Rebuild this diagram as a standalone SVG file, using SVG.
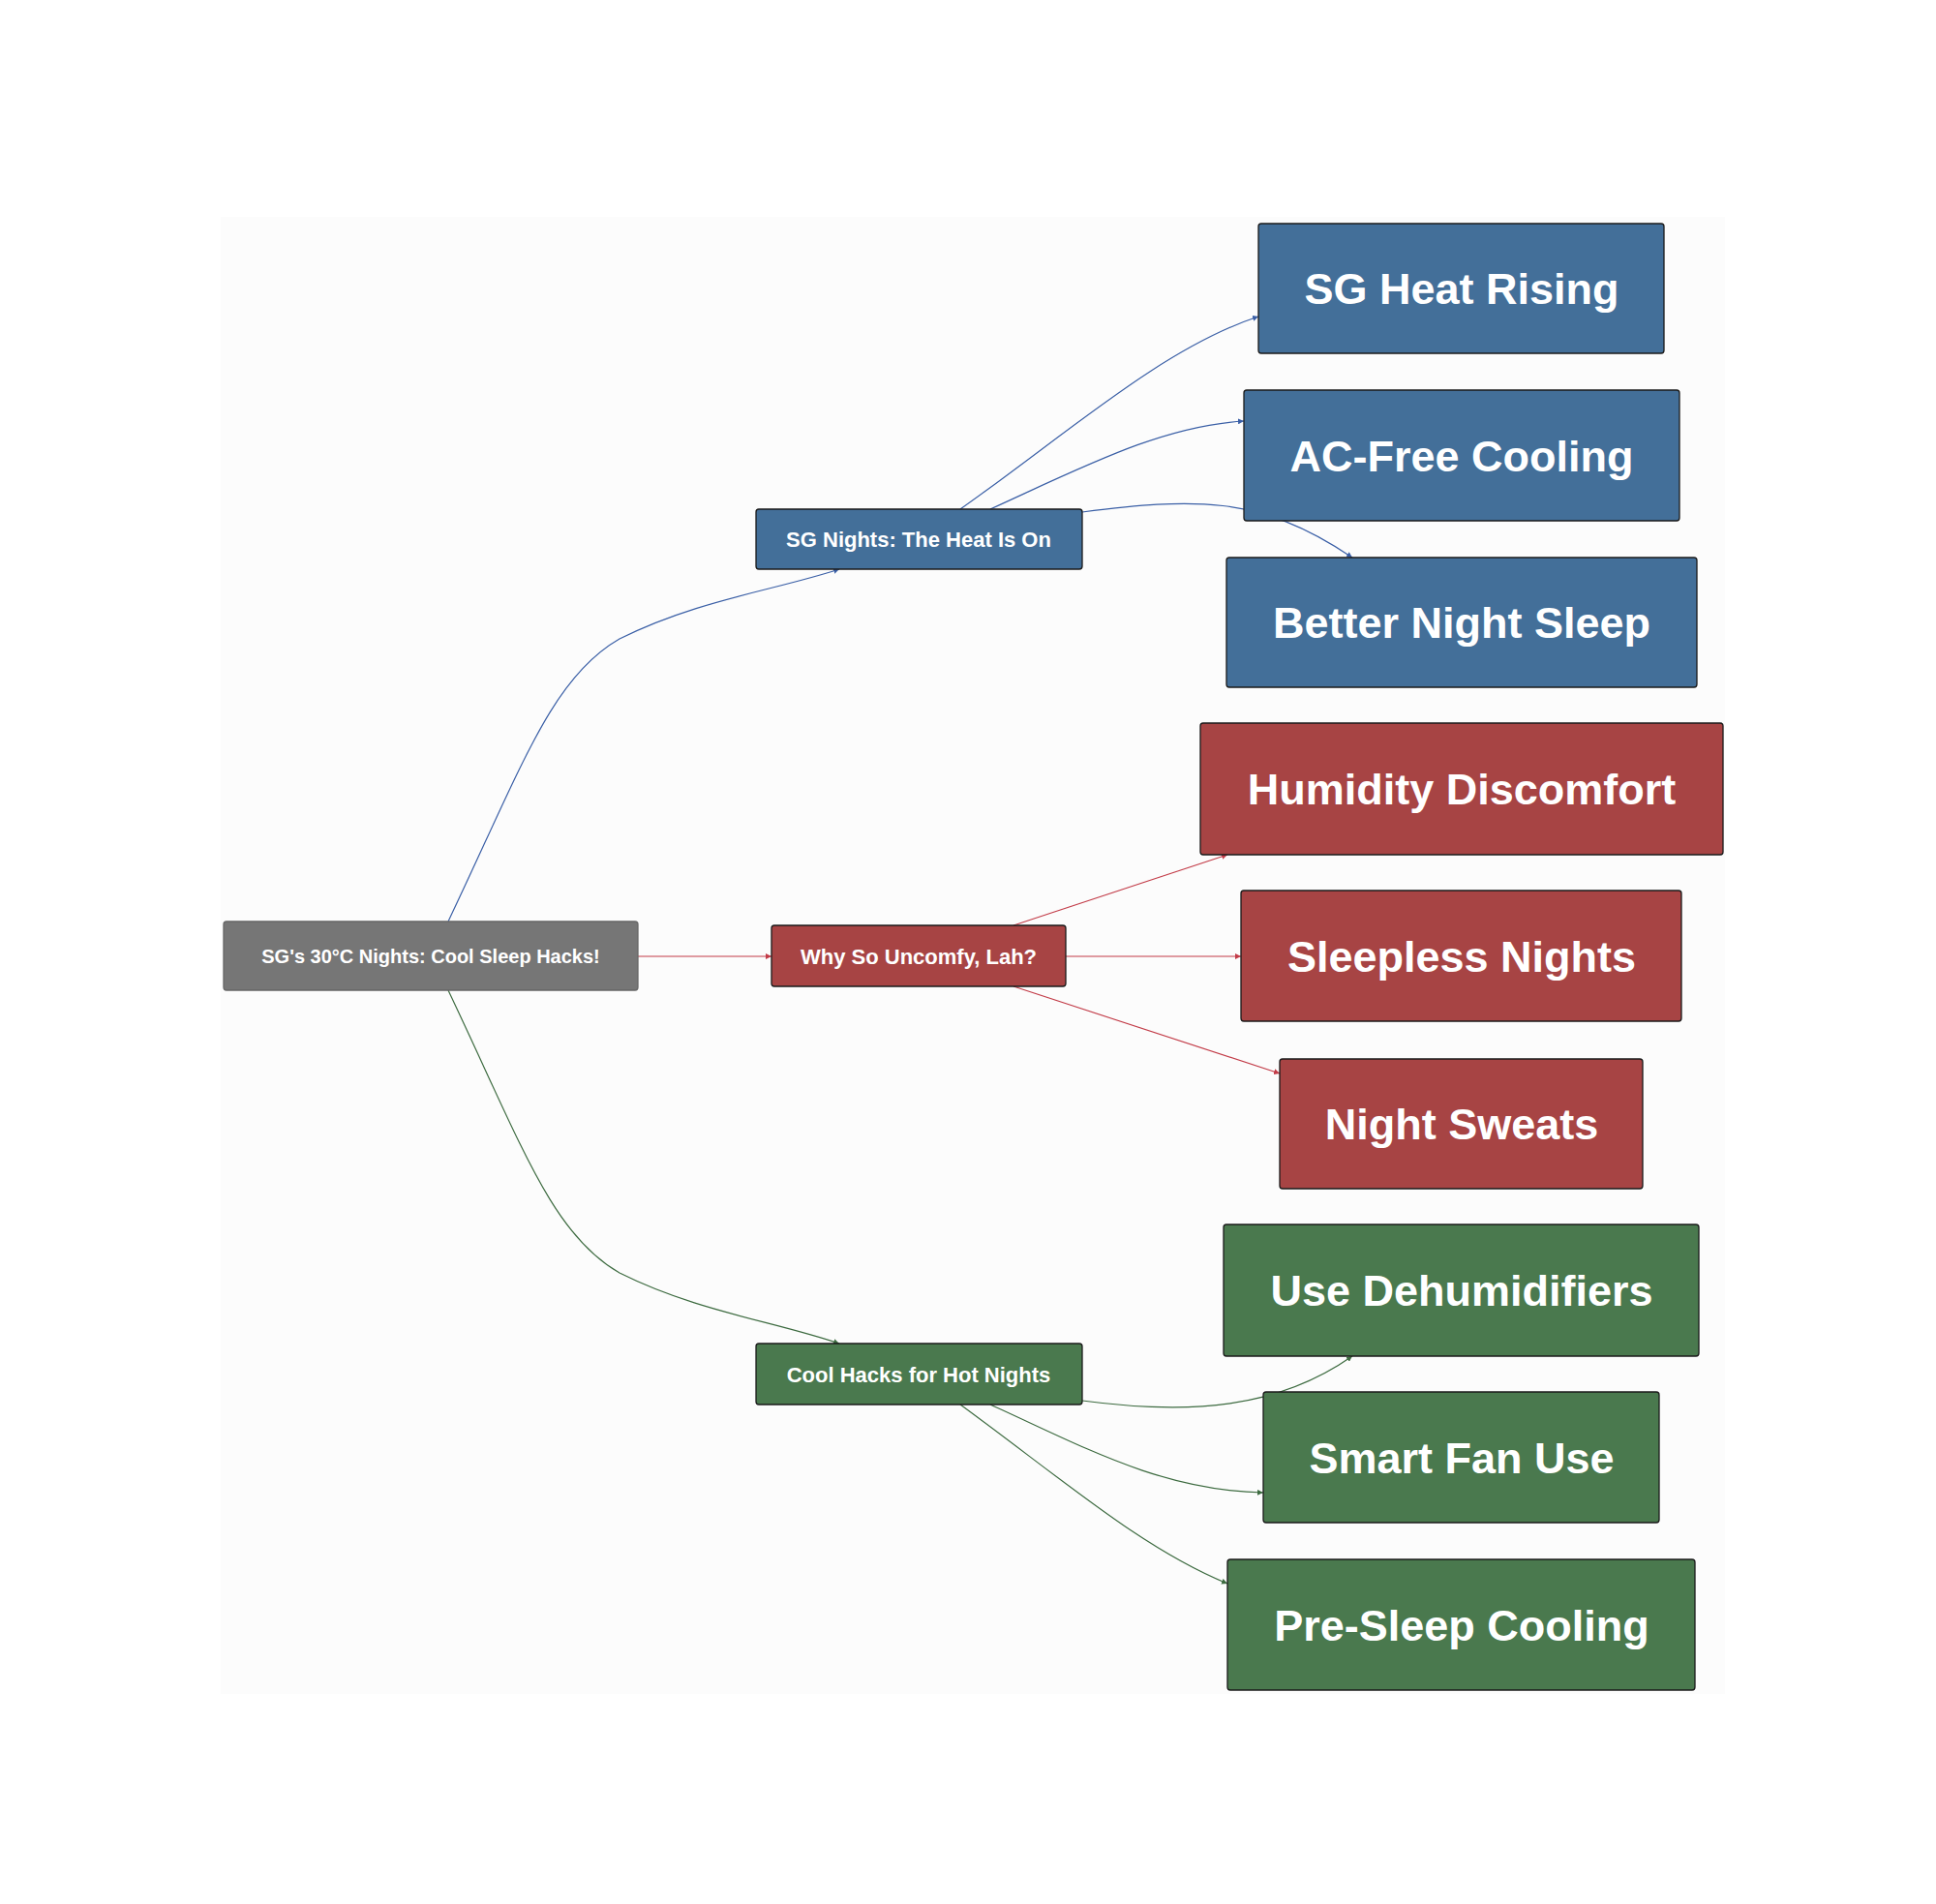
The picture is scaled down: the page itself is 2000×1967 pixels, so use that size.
<svg xmlns="http://www.w3.org/2000/svg" width="2000" height="1967" viewBox="0 0 2000 1967">
<defs>
<style>
text{font-family:"Liberation Sans",Arial,sans-serif;font-weight:bold;fill:#fff;text-anchor:middle;dominant-baseline:central}
.n rect{stroke:#1a1a1a;stroke-width:1.3}
.b rect{fill:#436f99}.r rect{fill:#a74444}.g rect{fill:#4a794e}.k rect{fill:#767676;stroke:#666}
.big{font-size:45px}.mid{font-size:22px}.sm{font-size:20px}
.e path{fill:none;stroke-width:1.2}
.eb{stroke:#3a5fa6}.er{stroke:#c23b47}.eg{stroke:#3d6b40}
</style>
<marker id="ab" viewBox="0 0 10 10" refX="10" refY="5" markerWidth="5" markerHeight="5" orient="auto"><path d="M0,0L10,5L0,10z" fill="#3a5fa6"/></marker>
<marker id="ar" viewBox="0 0 10 10" refX="10" refY="5" markerWidth="5" markerHeight="5" orient="auto"><path d="M0,0L10,5L0,10z" fill="#c23b47"/></marker>
<marker id="ag" viewBox="0 0 10 10" refX="10" refY="5" markerWidth="5" markerHeight="5" orient="auto"><path d="M0,0L10,5L0,10z" fill="#3d6b40"/></marker>
</defs>
<rect width="2000" height="1967" fill="#fff"/>
<rect x="228" y="224" width="1554" height="1526" fill="#fcfcfc"/>
<g id="connectors" class="e">
<path class="eb" marker-end="url(#ab)" d="M463,952 C540,790 570,700 640,660 C720,620 800,610 867,588"/>
<path class="er" marker-end="url(#ar)" d="M659,988 L797,988"/>
<path class="eg" marker-end="url(#ag)" d="M463,1023 C540,1185 570,1275 640,1315 C720,1355 800,1365 867,1388"/>
<path class="eb" marker-end="url(#ab)" d="M992,526 C1100,450 1200,360 1300,327"/>
<path class="eb" marker-end="url(#ab)" d="M1023,526 C1120,482 1200,440 1285,435"/>
<path class="eb" marker-end="url(#ab)" d="M1118,529 C1230,515 1300,510 1397,576"/>
<path class="er" marker-end="url(#ar)" d="M1047,956 L1268,883"/>
<path class="er" marker-end="url(#ar)" d="M1101,988 L1282,988"/>
<path class="er" marker-end="url(#ar)" d="M1047,1019 L1322,1109"/>
<path class="eg" marker-end="url(#ag)" d="M1118,1447 C1230,1462 1320,1455 1397,1401"/>
<path class="eg" marker-end="url(#ag)" d="M1023,1451 C1120,1495 1200,1540 1305,1542"/>
<path class="eg" marker-end="url(#ag)" d="M992,1451 C1100,1530 1180,1600 1268,1636"/>
</g>
<g id="root" class="n k"><rect x="231" y="952" width="428" height="71" rx="3"/><text class="sm" x="445" y="988">SG's 30°C Nights: Cool Sleep Hacks!</text></g>
<g id="heat" class="n b"><rect x="781" y="526" width="337" height="62" rx="3"/><text class="mid" x="949" y="557">SG Nights: The Heat Is On</text></g>
<g id="why" class="n r"><rect x="797" y="956" width="304" height="63" rx="3"/><text class="mid" x="949" y="988">Why So Uncomfy, Lah?</text></g>
<g id="hacks" class="n g"><rect x="781" y="1388" width="337" height="63" rx="3"/><text class="mid" x="949" y="1420">Cool Hacks for Hot Nights</text></g>
<g id="n1" class="n b"><rect x="1300" y="231" width="419" height="134" rx="3"/><text class="big" x="1510" y="298">SG Heat Rising</text></g>
<g id="n2" class="n b"><rect x="1285" y="403" width="450" height="135" rx="3"/><text class="big" x="1510" y="471">AC-Free Cooling</text></g>
<g id="n3" class="n b"><rect x="1267" y="576" width="486" height="134" rx="3"/><text class="big" x="1510" y="643">Better Night Sleep</text></g>
<g id="n4" class="n r"><rect x="1240" y="747" width="540" height="136" rx="3"/><text class="big" x="1510" y="815">Humidity Discomfort</text></g>
<g id="n5" class="n r"><rect x="1282" y="920" width="455" height="135" rx="3"/><text class="big" x="1510" y="988">Sleepless Nights</text></g>
<g id="n6" class="n r"><rect x="1322" y="1094" width="375" height="134" rx="3"/><text class="big" x="1510" y="1161">Night Sweats</text></g>
<g id="n7" class="n g"><rect x="1264" y="1265" width="491" height="136" rx="3"/><text class="big" x="1510" y="1333">Use Dehumidifiers</text></g>
<g id="n8" class="n g"><rect x="1305" y="1438" width="409" height="135" rx="3"/><text class="big" x="1510" y="1506">Smart Fan Use</text></g>
<g id="n9" class="n g"><rect x="1268" y="1611" width="483" height="135" rx="3"/><text class="big" x="1510" y="1679">Pre-Sleep Cooling</text></g>
</svg>
